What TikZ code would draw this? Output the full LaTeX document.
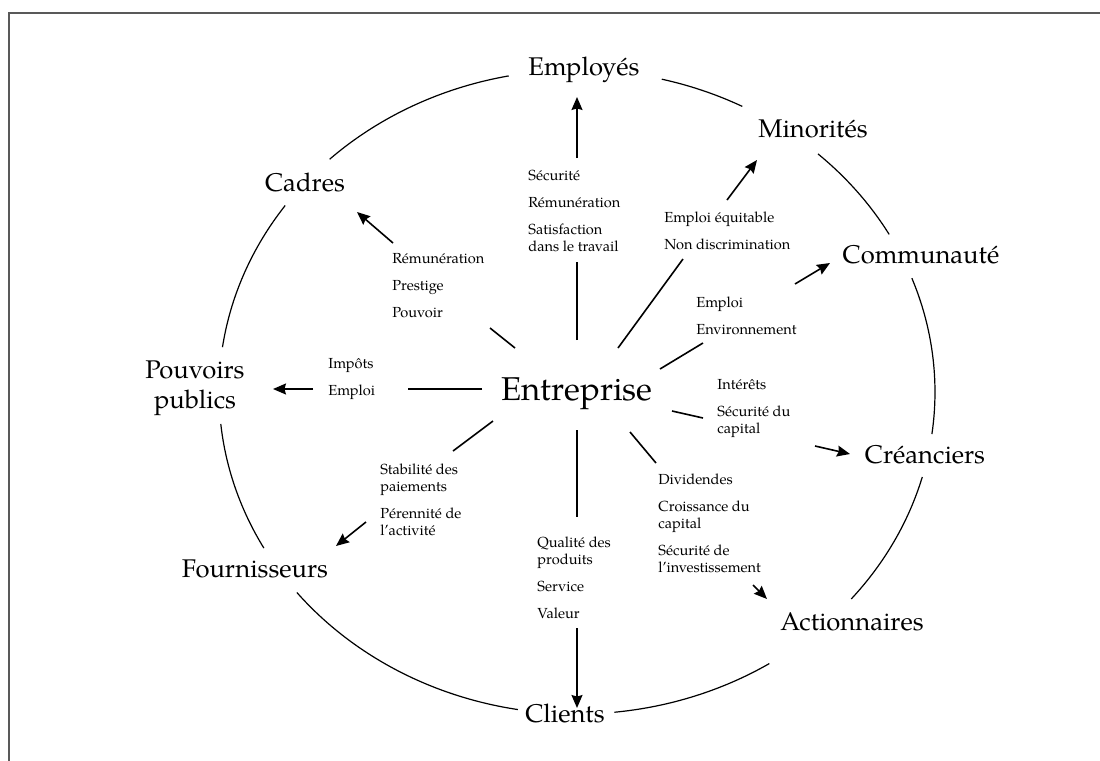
\documentclass[tikz,border=0pt]{standalone}
\usepackage{fontspec}
\setmainfont{TeX Gyre Pagella}
\usetikzlibrary{arrows.meta}
\begin{document}
\begin{tikzpicture}[x=0.5pt,y=-0.5pt,
  big/.style={font=\fontsize{12.8}{15}\selectfont, inner sep=0pt, anchor=base},
  small/.style={font=\fontsize{7.3}{8.5}\selectfont, align=left, inner sep=0pt, anchor=north west},
  link/.style={line width=0.8pt},
  arr/.style={line width=0.8pt, -{Stealth[length=6.5pt,width=5.5pt,inset=0.8pt]}},
  ring/.style={line width=0.6pt}]
\useasboundingbox (0,0) rectangle (1100,761);
\draw[black!65, line width=1pt] (9,761) -- (9,13) -- (1100,13);

% stakeholder labels
\node[big] (emp) at (584,75) {Employés};
\node[big] (min) at (813,137) {Minorités};
\node[big] (cad) at (305,191) {Cadres};
\node[big] (com) at (921,263) {Communauté};
\node[big, align=center, anchor=north] (pou) at (195,360) {Pouvoirs\\publics};
\node[big, font=\fontsize{16.5}{20}\selectfont] (ent) at (577,400) {Entreprise};
\node[big] (cre) at (925,463) {Créanciers};
\node[big] (fou) at (255,577) {Fournisseurs};
\node[big] (act) at (852,630) {Actionnaires};
\node[big] (cli) at (565,722) {Clients};

% text blocks
\node[small] (bEmp) at (528,170) {Sécurité\\[5pt]Rémunération\\[5pt]Satisfaction\\dans le travail};
\node[small] (bMin) at (664,211) {Emploi équitable\\[5pt]Non discrimination};
\node[small] (bCad) at (392,253) {Rémunération\\[5pt]Prestige\\[5pt]Pouvoir};
\node[small] (bCom) at (696,296) {Emploi\\[5pt]Environnement};
\node[small] (bPou) at (328,358) {Impôts\\[5pt]Emploi};
\node[small] (bCre) at (717,379) {Intérêts\\[5pt]Sécurité du\\capital};
\node[small] (bFou) at (380,463) {Stabilité des\\paiements\\[5pt]Pérennité de\\l'activité};
\node[small] (bCli) at (537,536) {Qualité des\\produits\\[5pt]Service\\[5pt]Valeur};
\node[small] (bAct) at (658,473) {Dividendes\\[5pt]Croissance du\\capital\\[5pt]Sécurité de\\l'investissement};

% connector end points
\coordinate (e1) at (577,340); \coordinate (e2) at (577,262);
\coordinate (e3) at (577,158); \coordinate (e4) at (577,97);
\coordinate (m1) at (618,348); \coordinate (m2) at (683,259);
\coordinate (m3) at (727,200); \coordinate (m4) at (757,160);
\coordinate (c1) at (660,369); \coordinate (c2) at (703,343);
\coordinate (c3) at (795,284); \coordinate (c4) at (830,263);
\coordinate (k1) at (515,348); \coordinate (k2) at (490,328);
\coordinate (k3) at (393,243); \coordinate (k4) at (357,212);
\coordinate (p1) at (482,389); \coordinate (p2) at (408,389);
\coordinate (p3) at (313,389); \coordinate (p4) at (273,389);
\coordinate (f1) at (493,421); \coordinate (f2) at (453,451);
\coordinate (f3) at (366,522); \coordinate (f4) at (336,546);
\coordinate (l1) at (577,430); \coordinate (l2) at (577,517);
\coordinate (l3) at (577,628); \coordinate (l4) at (577,708);
\coordinate (r1) at (672,411); \coordinate (r2) at (703,418);
\coordinate (r3) at (815,446); \coordinate (r4) at (850,454);
\coordinate (a1) at (630,432); \coordinate (a2) at (656,463);
\coordinate (a3) at (753,585); \coordinate (a4) at (767,599);

\foreach \s in {e,m,c,k,p,f,l,r,a}{
  \draw[link] (\s1) -- (\s2);
  \draw[arr] (\s3) -- (\s4);
}

% ring
\coordinate (ctr) at (577,392);
\foreach \a/\b in {76.3/62.5, 47.7/29.3, 20.7/-7.5, -15.3/-40, -57.5/-84, -99.5/-141.5, -151/-174.3, 172/144.6, 133.7/101}
  \draw[ring] ([shift={(\a:179pt and 161pt)}]ctr) arc[start angle=\a, end angle=\b, x radius=179pt, y radius=161pt];
\end{tikzpicture}
\end{document}
